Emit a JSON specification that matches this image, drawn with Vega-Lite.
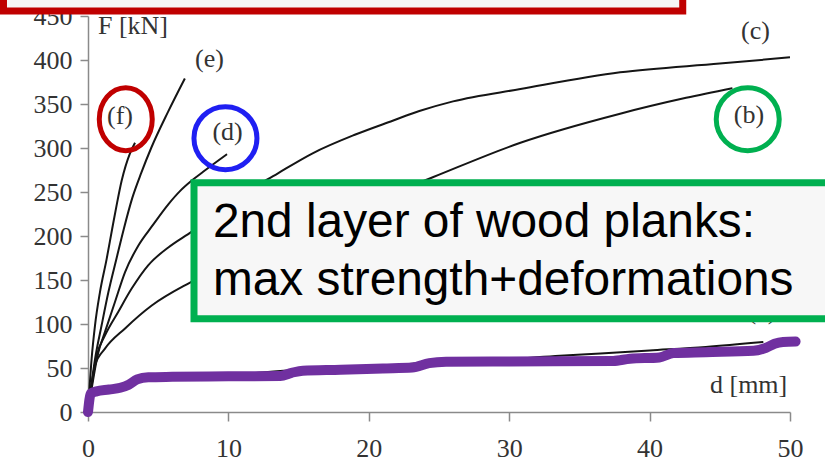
{
  "$schema": "https://vega.github.io/schema/vega-lite/v6.json",
  "autosize": {"type": "none"},
  "padding": {"left": 88, "top": 16, "right": 35, "bottom": 54},
  "width": 702,
  "height": 396,
  "background": "white",
  "config": {"view": {"stroke": null}},
  "datasets": {
    "curves": [
      {"curve": "f", "x": 0, "y": 0}, {"curve": "f", "x": 0.26, "y": 61}, {"curve": "f", "x": 0.5, "y": 98.5}, {"curve": "f", "x": 0.85, "y": 136}, {"curve": "f", "x": 1.33, "y": 174}, {"curve": "f", "x": 1.72, "y": 208}, {"curve": "f", "x": 2.05, "y": 236}, {"curve": "f", "x": 2.4, "y": 263}, {"curve": "f", "x": 2.99, "y": 294}, {"curve": "f", "x": 3.35, "y": 306},
      {"curve": "e", "x": 0, "y": 0}, {"curve": "e", "x": 0.5, "y": 60}, {"curve": "e", "x": 0.97, "y": 98.5}, {"curve": "e", "x": 1.45, "y": 136}, {"curve": "e", "x": 2.04, "y": 175}, {"curve": "e", "x": 2.55, "y": 208}, {"curve": "e", "x": 3.15, "y": 243}, {"curve": "e", "x": 3.8, "y": 272}, {"curve": "e", "x": 4.5, "y": 300}, {"curve": "e", "x": 5.7, "y": 341}, {"curve": "e", "x": 6.9, "y": 379},
      {"curve": "d", "x": 0, "y": 0}, {"curve": "d", "x": 0.74, "y": 68}, {"curve": "d", "x": 1.21, "y": 91}, {"curve": "d", "x": 1.92, "y": 125}, {"curve": "d", "x": 2.64, "y": 159}, {"curve": "d", "x": 3.58, "y": 189}, {"curve": "d", "x": 4.6, "y": 212}, {"curve": "d", "x": 5.72, "y": 236}, {"curve": "d", "x": 6.55, "y": 251}, {"curve": "d", "x": 7.39, "y": 263}, {"curve": "d", "x": 8.2, "y": 273}, {"curve": "d", "x": 9.9, "y": 293},
      {"curve": "c", "x": 0, "y": 0}, {"curve": "c", "x": 0.62, "y": 64}, {"curve": "c", "x": 1.21, "y": 87}, {"curve": "c", "x": 2.16, "y": 114}, {"curve": "c", "x": 3.1, "y": 140}, {"curve": "c", "x": 4.3, "y": 167}, {"curve": "c", "x": 5.72, "y": 187}, {"curve": "c", "x": 7.39, "y": 205}, {"curve": "c", "x": 10.3, "y": 240}, {"curve": "c", "x": 13.5, "y": 271}, {"curve": "c", "x": 16, "y": 294}, {"curve": "c", "x": 19, "y": 315}, {"curve": "c", "x": 21.7, "y": 331}, {"curve": "c", "x": 23.6, "y": 342}, {"curve": "c", "x": 26, "y": 353}, {"curve": "c", "x": 30.8, "y": 367}, {"curve": "c", "x": 37.9, "y": 386}, {"curve": "c", "x": 45, "y": 396}, {"curve": "c", "x": 50, "y": 403},
      {"curve": "b", "x": 0, "y": 0}, {"curve": "b", "x": 0.5, "y": 53}, {"curve": "b", "x": 1.21, "y": 72}, {"curve": "b", "x": 2.64, "y": 95}, {"curve": "b", "x": 4.54, "y": 121}, {"curve": "b", "x": 7.14, "y": 146}, {"curve": "b", "x": 12, "y": 180}, {"curve": "b", "x": 18, "y": 224}, {"curve": "b", "x": 24.6, "y": 267}, {"curve": "b", "x": 30.8, "y": 306}, {"curve": "b", "x": 37.9, "y": 339}, {"curve": "b", "x": 42.6, "y": 357}, {"curve": "b", "x": 45.9, "y": 368},
      {"curve": "a", "x": 0, "y": 0}, {"curve": "a", "x": 0.3, "y": 20}, {"curve": "a", "x": 2, "y": 28}, {"curve": "a", "x": 4, "y": 38}, {"curve": "a", "x": 10, "y": 42}, {"curve": "a", "x": 15, "y": 48}, {"curve": "a", "x": 20, "y": 51}, {"curve": "a", "x": 25, "y": 57}, {"curve": "a", "x": 30, "y": 60}, {"curve": "a", "x": 33.6, "y": 64}, {"curve": "a", "x": 36.5, "y": 66.5}, {"curve": "a", "x": 40, "y": 70}, {"curve": "a", "x": 44, "y": 74}, {"curve": "a", "x": 48.1, "y": 79.5}
    ],
    "trace": [
      {"x": 0, "y": 0}, {"x": 0.2, "y": 21}, {"x": 0.6, "y": 23.5}, {"x": 1.5, "y": 25.5}, {"x": 2.3, "y": 27.5}, {"x": 2.9, "y": 31}, {"x": 3.5, "y": 37}, {"x": 4.3, "y": 39.5}, {"x": 6, "y": 40}, {"x": 10, "y": 40.5}, {"x": 13.7, "y": 41}, {"x": 14.5, "y": 44.5}, {"x": 15.3, "y": 47}, {"x": 18, "y": 48}, {"x": 21, "y": 49.5}, {"x": 23.1, "y": 50.5}, {"x": 24.3, "y": 55.5}, {"x": 25.5, "y": 57}, {"x": 30, "y": 57.5}, {"x": 37.4, "y": 58}, {"x": 38.6, "y": 60.5}, {"x": 40.7, "y": 62}, {"x": 41.7, "y": 67}, {"x": 44, "y": 68}, {"x": 47.4, "y": 69.5}, {"x": 48.3, "y": 73}, {"x": 48.9, "y": 77.5}, {"x": 49.5, "y": 79.5}, {"x": 50.4, "y": 80}
    ],
    "labels": [
      {"label": "(f)", "x": 2.28, "y": 336},
      {"label": "(e)", "x": 8.65, "y": 400.8},
      {"label": "(d)", "x": 9.94, "y": 318.4},
      {"label": "(c)", "x": 47.54, "y": 432.6},
      {"label": "(b)", "x": 47.08, "y": 337},
      {"label": "(a)", "x": 48.0, "y": 114.5}
    ],
    "titles": [
      {"t": "F [kN]", "x": 0.71, "y": 429.8},
      {"t": "d [mm]", "x": 44.3, "y": 21.6}
    ],
    "rings": [
      {"ring": "f", "x": 2.69, "y": 332.8},
      {"ring": "d", "x": 9.79, "y": 311.2},
      {"ring": "b", "x": 46.99, "y": 332.8}
    ],
    "boxes": [
      {"box": "green", "x": 7.55, "x2": 53.56, "y": 105.9, "y2": 260.5},
      {"box": "red", "x": -6.02, "x2": 42.36, "y": 455.6, "y2": 520}
    ],
    "note": [
      {"t": "2nd layer of wood planks:", "x": 8.9, "y": 198.5},
      {"t": "max strength+deformations", "x": 8.9, "y": 132.6}
    ]
  },
  "encoding": {
    "x": {
      "field": "x", "type": "quantitative",
      "scale": {"domain": [0, 50], "nice": false, "zero": false},
      "axis": {"values": [0, 10, 20, 30, 40, 50], "title": null, "grid": false, "tickSize": 9, "labelPadding": 14,
        "domainColor": "#8a8a8a", "tickColor": "#8a8a8a", "domainWidth": 1.5, "tickWidth": 1.5,
        "labelFont": "Liberation Serif", "labelFontSize": 26, "labelColor": "#333333", "labelFlush": false}
    },
    "y": {
      "field": "y", "type": "quantitative",
      "scale": {"domain": [0, 450], "nice": false, "zero": false},
      "axis": {"values": [0, 50, 100, 150, 200, 250, 300, 350, 400, 450], "title": null, "grid": false, "tickSize": 8, "labelPadding": 8,
        "domainColor": "#8a8a8a", "tickColor": "#8a8a8a", "domainWidth": 1.5, "tickWidth": 1.5,
        "labelFont": "Liberation Serif", "labelFontSize": 26, "labelColor": "#333333", "labelFlush": false}
    }
  },
  "layer": [
    {
      "data": {"name": "curves"},
      "mark": {"type": "line", "color": "#151515", "strokeWidth": 2, "interpolate": "monotone"},
      "encoding": {"detail": {"field": "curve"}}
    },
    {
      "data": {"name": "trace"},
      "mark": {"type": "line", "color": "#7030A0", "strokeWidth": 10, "strokeCap": "round", "strokeJoin": "round", "interpolate": "monotone"}
    },
    {
      "data": {"name": "labels"},
      "mark": {"type": "text", "font": "Liberation Serif", "fontSize": 26, "color": "#333333", "align": "center", "baseline": "middle"},
      "encoding": {"text": {"field": "label"}}
    },
    {
      "data": {"name": "titles"},
      "mark": {"type": "text", "font": "Liberation Serif", "fontSize": 26, "color": "#333333", "align": "left", "baseline": "alphabetic"},
      "encoding": {"text": {"field": "t"}}
    },
    {
      "data": {"name": "rings"},
      "transform": [{"filter": "datum.ring === 'f'"}],
      "mark": {"type": "point", "filled": false, "size": 3969, "strokeWidth": 5, "color": "#C00000", "opacity": 1,
        "shape": "M0.841,0C0.841,0.5523,0.4645,1,0,1C-0.4645,1,-0.841,0.5523,-0.841,0C-0.841,-0.5523,-0.4645,-1,0,-1C0.4645,-1,0.841,-0.5523,0.841,0Z"}
    },
    {
      "data": {"name": "rings"},
      "transform": [{"filter": "datum.ring === 'd'"}],
      "mark": {"type": "point", "filled": false, "size": 3969, "strokeWidth": 5, "color": "#1F1FF2", "opacity": 1, "shape": "circle"}
    },
    {
      "data": {"name": "rings"},
      "transform": [{"filter": "datum.ring === 'b'"}],
      "mark": {"type": "point", "filled": false, "size": 3969, "strokeWidth": 5, "color": "#00B050", "opacity": 1, "shape": "circle"}
    },
    {
      "data": {"name": "boxes"},
      "transform": [{"filter": "datum.box === 'green'"}],
      "mark": {"type": "rect", "fill": "#F7F7F7", "stroke": "#00B050", "strokeWidth": 7, "clip": false},
      "encoding": {"x2": {"field": "x2"}, "y2": {"field": "y2"}}
    },
    {
      "data": {"name": "boxes"},
      "transform": [{"filter": "datum.box === 'red'"}],
      "mark": {"type": "rect", "fill": "#F7F7F7", "stroke": "#C00000", "strokeWidth": 7, "clip": false},
      "encoding": {"x2": {"field": "x2"}, "y2": {"field": "y2"}}
    },
    {
      "data": {"name": "note"},
      "mark": {"type": "text", "font": "Liberation Sans", "fontSize": 47.8, "color": "#000000", "align": "left", "baseline": "alphabetic"},
      "encoding": {"text": {"field": "t"}}
    }
  ]
}
